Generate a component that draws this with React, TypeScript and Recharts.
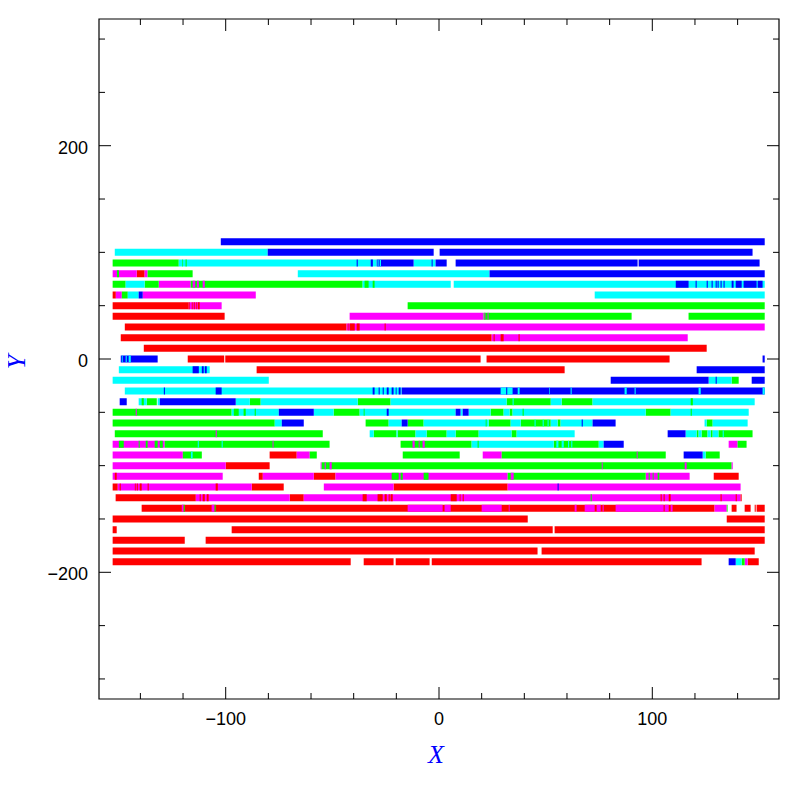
import React from "react";
import { LineChart, Line, XAxis, YAxis, ReferenceArea } from "recharts";

type Seg = [number, number, number]; // [y, xStart, xEnd]

const X_DOMAIN: [number, number] = [-159.4, 159.4];
const Y_DOMAIN: [number, number] = [-318.8, 318.8];
const X_TICKS = [-140, -120, -100, -80, -60, -40, -20, 0, 20, 40, 60, 80, 100, 120, 140];
const X_LABELED = [-100, 0, 100];
const Y_TICKS = [-300, -250, -200, -150, -100, -50, 0, 50, 100, 150, 200, 250, 300];
const Y_LABELED = [-200, 0, 200];

// ---- base bars ----
const redBars: Seg[] = [
  [80, -141.7, -138], [60, -153, -151.5], [50, -153, -117.3], [40, -153, -100.5],
  [30, -147.3, -43.3], [20, -149.2, 24.7], [10, -138.4, 125.5],
  [0, -117.8, -100.7], [0, -100.2, 19.5], [0, 22.3, 108.1],
  [-10, -85.5, 58.9], [-90, -79.4, -66.7], [-100, -100, -79.4],
  [-110, -84.5, -82.6], [-110, -58.7, -48.5], [-110, 128.8, 140.5],
  [-120, -153, -150.6], [-120, -87.8, -72.8], [-120, -21.3, 32.2],
  [-130, -151.6, -114], [-130, -70, -63.4],
  [-140, -139.4, 129.2], [-140, 137.2, 139.5], [-140, 143.3, 146.1], [-140, 148, 148.5], [-140, 148.9, 152.7],
  [-150, -153, 41.6], [-150, 134.9, 152.7],
  [-160, -153, -151.1], [-160, -97.2, 53.3], [-160, 54.2, 152.7],
  [-170, -153, -119.2], [-170, -109.4, 152.7],
  [-180, -153, 46.2], [-180, 48.1, 148],
  [-190, -153, -41.4], [-190, -35.3, -21.3], [-190, -20.3, -4.4], [-190, -3.4, 123.1], [-190, 144.7, 149.9],
];

const magentaBars: Seg[] = [
  [80, -153, -141.7], [80, -138, -136.6], [70, -131.4, -116.4],
  [60, -151.5, -148.7], [60, -138.9, -85.9], [50, -117.3, -101.9],
  [40, -41.9, 20.9], [30, -43.3, 152.7], [20, 24.7, 116.6],
  [-80, -153, -128.6], [-80, 135.8, 140],
  [-90, -153, -120.1], [-90, -66.7, -60.6], [-90, 20.5, 29.4],
  [-100, -153, -100], [-100, -55.5, -55],
  [-110, -153, -101.4], [-110, -82.6, -58.7], [-110, -48.5, 32.2], [-110, 96.9, 117.5],
  [-120, -150.6, -87.8], [-120, -54, -21.3], [-120, 32.2, 141.4],
  [-130, -114, -70], [-130, -63.4, 141.4],
  [-140, 129.2, 134.9], [-190, 143.3, 144.7],
];

const greenBars: Seg[] = [
  [90, -153, -122], [80, -136.6, -115.5],
  [70, -153, -146.9], [70, -138, -131.4], [70, -116.4, -35.8],
  [60, -148.7, -145.9], [50, -14.7, 152.7],
  [40, 20.9, 90.3], [40, 117, 152.7], [-20, 137.2, 140.5],
  [-40, -137, -132.3], [-40, -88.7, -83.6], [-40, -38.1, -22.7], [-40, 31.7, 52.4], [-40, 57.5, 72],
  [-50, -153, -97.2], [-50, -49.4, -37.2], [-50, 24.2, 30.3], [-50, 33.1, 34.5], [-50, 96.9, 108.6],
  [-60, -153, -77], [-60, -34.4, -23.6], [-60, -14.7, -7.2], [-60, 23.3, 33.6], [-60, 38.3, 52.4],
  [-60, 55.6, 57], [-60, 125.5, 128.3],
  [-70, -152, -54.5], [-70, -30.6, -19.9], [-70, -19.4, -11], [-70, -5.8, 3.6], [-70, 7.8, 18.6],
  [-70, 34, 36.4], [-70, 120.8, 121.7], [-70, 123.1, 125.9], [-70, 127.4, 128.3], [-70, 131, 147],
  [-80, -128.6, -51.3], [-80, -18, 15.3], [-80, 53.8, 74.9], [-80, 140, 144.2],
  [-90, -120.1, -111.2], [-90, -60.6, -57.3], [-90, -17, 9.7], [-90, 29.4, 106.3], [-90, 125, 131.6],
  [-100, -55, 137.2], [-110, 32.2, 96.9], [-190, 141.9, 143.3],
];

const cyanBars: Seg[] = [
  [100, -152, -80.3], [90, -122, -29.2], [90, -11.9, -1.6], [80, -66.2, 23.7],
  [70, -146.9, -138], [70, -35.8, 5.5], [70, 6.9, 152.7],
  [60, -145.9, -140.8], [60, 73, 152.7],
  [-10, -150.1, -107.5], [-20, -153, -79.8], [-20, 126.4, 137.2], [-30, -147.3, -17.5],
  [-40, -140.8, -137], [-40, -131.9, -130.9], [-40, -95.3, -88.7], [-40, -83.6, -38.1],
  [-40, -22.7, 31.7], [-40, 52.4, 57.5], [-40, 72, 148],
  [-50, -97.2, -75.1], [-50, -58.7, -49.4], [-50, -37.2, 7.8], [-50, 10.1, 11.1], [-50, 13.9, 24.2],
  [-50, 30.3, 33.1], [-50, 34.5, 96.9], [-50, 108.6, 145.2],
  [-60, -77, -73.7], [-60, -23.6, -17.5], [-60, -7.2, 23.3], [-60, 33.6, 38.3], [-60, 52.4, 55.6],
  [-60, 57, 72], [-60, 124.5, 125.5], [-60, 128.3, 144.7],
  [-70, -32.5, -30.6], [-70, -19.9, -19.4], [-70, -11, -5.8], [-70, 3.6, 7.8], [-70, 18.6, 34],
  [-70, 36.4, 63.6], [-70, 115.6, 120.8], [-70, 121.7, 123.1], [-70, 125.9, 127.4], [-70, 128.3, 131],
  [-80, 15.3, 53.8], [-80, 74.9, 77.2], [-90, 123.6, 125], [-190, 139.1, 141.9],
];

const blueBars: Seg[] = [
  [110, -102.3, 152.7], [100, -80.3, -2.5], [100, 0.3, 147],
  [90, -29.2, -11.9], [90, -1.6, 3.6], [90, 7.8, 93.1], [90, 93.6, 150.3],
  [80, 23.7, 152.7], [60, -140.8, -138.9],
  [0, -149.2, -131.9], [0, 151.7, 152.7], [-10, 120.8, 152.7],
  [-20, 80.5, 126.4], [-20, 146.6, 152.7], [-30, -17.5, 152.7],
  [-40, -149.7, -146.4], [-40, -130.9, -95.3],
  [-50, -75.1, -58.7], [-50, 7.8, 10.1], [-50, 11.1, 13.9],
  [-60, -73.7, -63.4], [-60, -17.5, -14.7], [-60, 72, 82.8],
  [-70, 107.2, 115.6], [-80, 77.2, 86.6], [-90, 114.7, 123.6], [-190, 135.8, 139.1],
];

// ---- thin marks drawn on top ----
const redMarks: Seg[] = [
  [50, -117.3, -116.9], [50, -115.9, -115.5], [50, -115, -114.5], [50, -114, -113.6], [50, -113.1, -112.2],
  [30, -42.8, -42.4], [30, -41.9, -39.5], [30, -38.6, -37.2], [30, -25.5, -25],
  [20, 25.6, 26.1], [20, 28.9, 30.3], [20, 37.3, 37.8],
  [-110, -152, -151.1],
  [-120, -149.7, -149.2], [-120, -142.6, -142.2], [-120, -141.7, -141.2], [-120, -140.3, -139.4],
  [-120, -136.6, -136.1], [-120, -104.7, -103.7],
  [-130, -112.2, -111.7], [-130, -110.8, -109.8], [-130, -108.9, -108], [-130, -35.8, -33.9],
  [-130, -28.8, -26.4], [-130, -25.5, -24.5], [-130, -23.6, -23.1], [-130, -22.7, -21.7],
  [-130, 5.5, 8.3], [-130, 9.7, 10.1], [-130, 11.1, 11.6], [-130, 103.9, 104.4], [-130, 105.3, 105.8],
  [-130, 107.7, 108.6], [-130, 132, 132.5], [-130, 139.1, 139.6], [-130, 141.4, 141.9],
];

const magentaMarks: Seg[] = [
  [70, -115.5, -114.3], [70, -113.5, -112.6], [70, -110.8, -109.8],
  [40, 21.3, 21.7], [40, 22.8, 23.2], [-50, -142.2, -141.7], [-70, -104.7, -104.2],
  [-80, -78, -77.6], [-80, -12.4, -11.4], [-80, -9.5, -9.1], [-80, -7.7, -6.7],
  [-90, 92.7, 93.1],
  [-100, -53.6, -53.1], [-100, -51.3, -50.3], [-100, 76.3, 76.7], [-100, 115.2, 116.1], [-100, 137.2, 137.7],
  [-110, 33.6, 35],
  [-140, -120.6, -119.7], [-140, -106.6, -105.2], [-140, -14.7, 1.7], [-140, 2.6, 5.5], [-140, 20, 29.4],
  [-140, 32.7, 33.1], [-140, 63.6, 64.5], [-140, 68.3, 73], [-140, 73.9, 75.8], [-140, 76.7, 77.2],
  [-140, 82.8, 105.3], [-140, 105.8, 107.7], [-140, 108.6, 109.5],
];

const greenMarks: Seg[] = [
  [90, -120.3, -120], [90, -118.8, -118.3], [80, -151, -150],
  [70, -34.9, -33], [70, -31.1, -30.2],
  [-40, -139.4, -138.4], [-40, 118, 119],
  [-50, -96.2, -93.9], [-50, -91.6, -90.6], [-50, -86.4, -85.9], [-50, -35.3, -34.9], [-50, 39.2, 39.7], [-50, 118, 118.5],
  [-60, 21.9, 22.3],
  [-80, -150.1, -147.8], [-80, -140.8, -140.3], [-80, -137.5, -136.6], [-80, -133.3, -131.9], [-80, -130.9, -129.5], [-80, 18.1, 18.6],
  [-110, -22.2, -18.9], [-110, -18, -17], [-110, -7.2, -4.9], [-110, 98.3, 98.8], [-110, 100.2, 100.6], [-110, 102.5, 103.3],
  [-130, 71.1, 71.6],
  [-140, -119.7, -119.2], [-140, -105.2, -104.7], [-140, 134.9, 135.3],
];

const cyanMarks: Seg[] = [
  [90, -28.8, -28.3], [90, -27.8, -27.2],
  [0, -148.7, -148.3], [0, -146.9, -146.4], [0, -145.5, -144.5],
  [-30, 28.9, 34.5], [-30, 36.9, 37.8], [-30, 51.6, 51.9], [-30, 61.7, 62.2], [-30, 87, 88],
  [-30, 91.7, 92.2], [-30, 121.7, 122.7], [-30, 151.7, 152.7],
  [-40, 34.5, 35], [-70, 133, 133.5],
  [-80, -113.1, -112.6], [-80, -101.9, -101.4], [-80, 55, 56], [-80, 57.5, 58.5], [-80, 60.5, 61], [-80, 62, 62.5],
  [-90, -116.3, -115.5],
  [-60, 44.8, 45.3], [-60, 48.6, 49.1], [-60, 50.9, 51.4],
];

const blueMarks: Seg[] = [
  [90, -38.6, -38.1], [90, -32, -31], [90, -3.45, -3],
  [70, 111, 117], [70, 120.3, 120.8], [70, 125.5, 126], [70, 127.8, 128.3], [70, 129.7, 130.2],
  [70, 130.6, 131.1], [70, 132, 132.5], [70, 133.4, 133.9], [70, 137.2, 138.1], [70, 139.1, 141.9],
  [70, 142.8, 148.9], [70, 149.4, 151.7],
  [-10, -115.5, -112.6], [-10, -111.2, -110.3], [-10, -109.8, -108.9],
  [-20, 129.7, 130.2],
  [-30, -129, -128.5], [-30, -104.7, -101.9], [-30, -31.1, -30.2], [-30, -28.3, -27.8], [-30, -26.4, -25.9],
  [-30, -24.5, -23.6], [-30, -22.2, -21.3], [-30, -20.3, -19.9], [-30, -18.9, -18], [-30, 31.5, 32],
  [-50, -24.5, -23.6], [-60, 66.9, 67.4], [-120, 55.6, 56.1],
];

const RED = "#ff0000";
const MAGENTA = "#ff00ff";
const GREEN = "#00ff00";
const CYAN = "#00ffff";
const BLUE = "#0000ff";

const layers: { key: string; color: string; segs: Seg[] }[] = [
  { key: "redBars", color: RED, segs: redBars },
  { key: "magentaBars", color: MAGENTA, segs: magentaBars },
  { key: "greenBars", color: GREEN, segs: greenBars },
  { key: "cyanBars", color: CYAN, segs: cyanBars },
  { key: "blueBars", color: BLUE, segs: blueBars },
  { key: "redMarks", color: RED, segs: redMarks },
  { key: "magentaMarks", color: MAGENTA, segs: magentaMarks },
  { key: "greenMarks", color: GREEN, segs: greenMarks },
  { key: "cyanMarks", color: CYAN, segs: cyanMarks },
  { key: "blueMarks", color: BLUE, segs: blueMarks },
];

const toLineData = (segs: Seg[]) =>
  segs.flatMap(([y, x1, x2]) => [
    { x: x1, y },
    { x: x2, y },
    { x: x2, y: null as number | null },
  ]);

const PLOT_W = 680;
const PLOT_H = 680;
const SANS = "'Liberation Sans', Arial, Helvetica, sans-serif";
const SERIF = "'Liberation Serif', 'Times New Roman', serif";

const fmt = (v: number) => (v < 0 ? "\u2212" + Math.abs(v) : String(v));

const XTick = (props: any) => {
  const { x, y, payload } = props;
  const v = payload.value as number;
  const major = X_LABELED.includes(v);
  const len = major ? 12 : 6;
  return (
    <g>
      <line x1={x} y1={y} x2={x} y2={y - len} stroke="#000" strokeWidth={1} />
      <line x1={x} y1={y - PLOT_H} x2={x} y2={y - PLOT_H + len} stroke="#000" strokeWidth={1} />
      {major && (
        <text x={x} y={y + 26} textAnchor="middle" fontSize={18} fontFamily={SANS} fill="#000">
          {fmt(v)}
        </text>
      )}
    </g>
  );
};

const YTick = (props: any) => {
  const { x, y, payload } = props;
  const v = payload.value as number;
  const major = Y_LABELED.includes(v);
  const len = major ? 12 : 6;
  return (
    <g>
      <line x1={x} y1={y} x2={x + len} y2={y} stroke="#000" strokeWidth={1} />
      <line x1={x + PLOT_W} y1={y} x2={x + PLOT_W - len} y2={y} stroke="#000" strokeWidth={1} />
      {major && (
        <text x={x - 11} y={y + 8} textAnchor="end" fontSize={18} fontFamily={SANS} fill="#000">
          {fmt(v)}
        </text>
      )}
    </g>
  );
};

const XTitle = (p: any) => {
  const vb = p.viewBox || { x: 91, y: 691, width: 680, height: 90 };
  return (
    <text
      x={vb.x + vb.width / 2 - 3}
      y={vb.y + 64}
      textAnchor="middle"
      fontSize={26}
      fontStyle="italic"
      fontFamily={SERIF}
      fill="#0000ff"
    >
      X
    </text>
  );
};

const YTitle = (p: any) => {
  const vb = p.viewBox || { x: 0, y: 11, width: 91, height: 680 };
  const cx = vb.x + 17;
  const cy = vb.y + vb.height / 2 + 3;
  return (
    <g transform={`translate(${cx} ${cy}) rotate(-90)`}>
      <text
        x={0}
        y={0}
        textAnchor="middle"
        fontSize={26}
        fontStyle="italic"
        fontFamily={SERIF}
        fill="#0000ff"
      >
        Y
      </text>
    </g>
  );
};

export default function App() {
  return (
    <div style={{ width: 781, height: 781, background: "#fff" }}>
      <LineChart width={781} height={781} margin={{ top: 11, right: 10, bottom: 0, left: 0 }}>
        <XAxis
          type="number"
          dataKey="x"
          domain={X_DOMAIN}
          allowDataOverflow
          ticks={X_TICKS}
          interval={0}
          height={90}
          tickSize={0}
          tickMargin={0}
          tickLine={false}
          axisLine={false}
          tick={<XTick />}
          label={XTitle}
        />
        <YAxis
          type="number"
          dataKey="y"
          domain={Y_DOMAIN}
          allowDataOverflow
          ticks={Y_TICKS}
          interval={0}
          width={91}
          tickSize={0}
          tickMargin={0}
          tickLine={false}
          axisLine={false}
          tick={<YTick />}
          label={YTitle}
        />
        <ReferenceArea
          x1={X_DOMAIN[0]}
          x2={X_DOMAIN[1]}
          y1={Y_DOMAIN[0]}
          y2={Y_DOMAIN[1]}
          fill="none"
          fillOpacity={0}
          stroke="#000"
          strokeWidth={1.2}
          ifOverflow="visible"
        />
        {layers.map((l) => (
          <Line
            key={l.key}
            data={toLineData(l.segs)}
            dataKey="y"
            type="linear"
            stroke={l.color}
            strokeWidth={7}
            dot={false}
            activeDot={false}
            connectNulls={false}
            isAnimationActive={false}
            legendType="none"
          />
        ))}
      </LineChart>
    </div>
  );
}
